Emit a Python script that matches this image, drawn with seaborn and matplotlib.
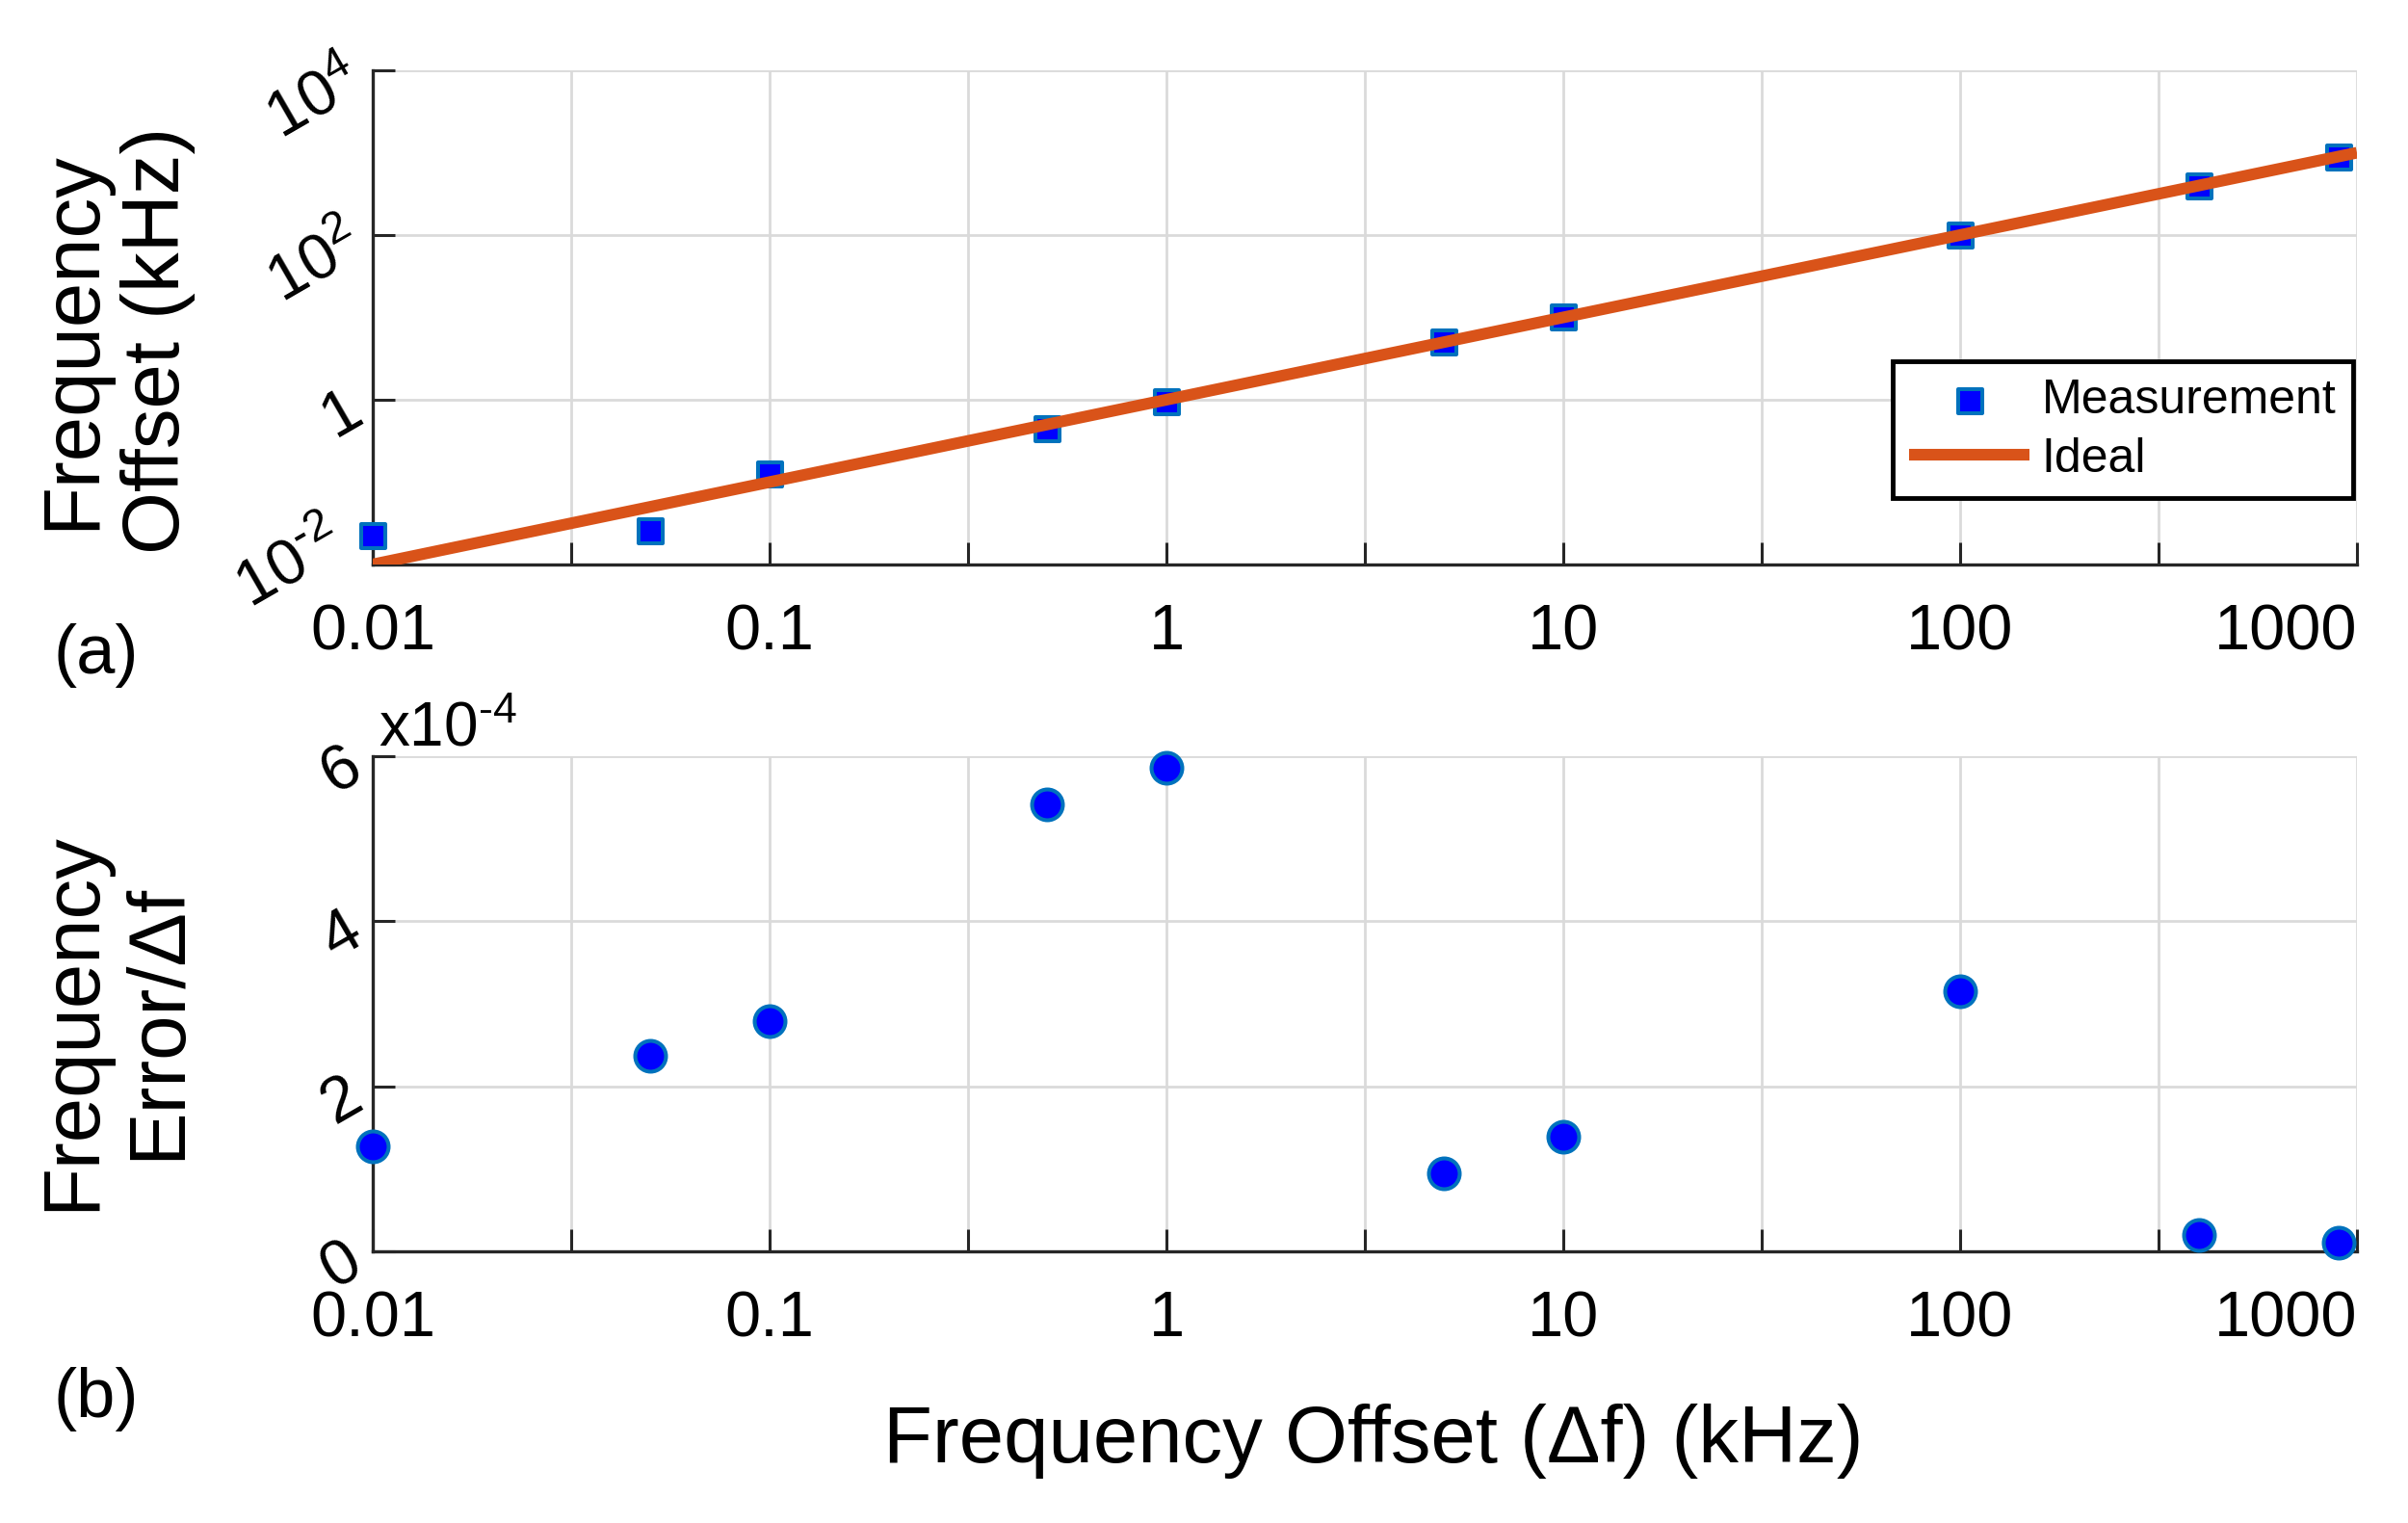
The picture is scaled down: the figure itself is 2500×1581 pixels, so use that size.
import numpy as np
import pandas as pd
import matplotlib
matplotlib.use("Agg")
import matplotlib.pyplot as plt
import seaborn as sns
from matplotlib.ticker import FixedLocator, FixedFormatter, NullLocator

# ---------------- data ----------------
freq_khz = [0.01, 0.05, 0.1, 0.5, 1, 5, 10, 100, 400, 900]
measured_khz = [0.0224, 0.0257, 0.126, 0.44, 0.95, 5.0, 10.0, 100.0, 398.0, 885.0]
rel_error = [1.27e-4, 2.37e-4, 2.79e-4, 5.42e-4, 5.86e-4, 0.95e-4, 1.39e-4, 3.15e-4, 0.20e-4, 0.11e-4]
ideal_x = [0.01, 1000]
ideal_y = [0.01, 1000]

x_tick_labels = ["0.01", "0.1", "1", "10", "100", "1000"]
y_top_ticks = [1e-2, 1, 1e2, 1e4]
y_top_labels = [r"10$^{\text{-}2}$", "1", r"10$^{2}$", r"10$^{4}$"]
y_bot_ticks = [0, 2e-4, 4e-4, 6e-4]
y_bot_labels = ["0", "2", "4", "6"]

# ---------------- style ----------------
sns.set_theme(style="white")
plt.rcParams["font.family"] = ["Liberation Sans", "DejaVu Sans"]
plt.rcParams["mathtext.fontset"] = "custom"
plt.rcParams["mathtext.rm"] = "Liberation Sans"
plt.rcParams["mathtext.it"] = "Liberation Sans:italic"
plt.rcParams["mathtext.default"] = "regular"
plt.rcParams["text.color"] = "black"
plt.rcParams["axes.labelcolor"] = "black"
plt.rcParams["xtick.color"] = "black"
plt.rcParams["ytick.color"] = "black"

AX_COL = "#262626"
GRID_COL = "#dadada"
FACE = "#0000FF"
EDGE = "#0072BD"
LINE = "#D95319"

meas_df = pd.DataFrame({"freq": freq_khz, "measured": measured_khz, "err": rel_error})
ideal_df = pd.DataFrame({"x": ideal_x, "y": ideal_y})

fig = plt.figure(figsize=(25, 15.81), dpi=100)
ax1 = fig.add_axes([0.1548, 0.6294, 0.824, 0.3244])
ax2 = fig.add_axes([0.1548, 0.1784, 0.824, 0.3251])

# top panel
sns.scatterplot(data=meas_df, x="freq", y="measured", ax=ax1, marker="s", s=324,
                color=FACE, edgecolor=EDGE, linewidth=2.9, label="Measurement",
                zorder=3, clip_on=False)
sns.lineplot(data=ideal_df, x="x", y="y", ax=ax1, color=LINE, linewidth=8.7,
             label="Ideal", zorder=4, solid_capstyle="butt")
ax1.set_xscale("log")
ax1.set_yscale("log")
ax1.set_ylim(1e-2, 1e4)

# bottom panel
sns.scatterplot(data=meas_df, x="freq", y="err", ax=ax2, marker="o", s=529,
                color=FACE, edgecolor=EDGE, linewidth=2.9, zorder=3, clip_on=False,
                legend=False)
ax2.set_xscale("log")
ax2.set_ylim(0, 6e-4)

xticks = 10.0 ** np.arange(-2, 3.01, 0.5)
xlabels = [x_tick_labels[i // 2] if i % 2 == 0 else "" for i in range(len(xticks))]

for ax in (ax1, ax2):
    ax.set_xlim(0.01, 1000)
    ax.xaxis.set_major_locator(FixedLocator(xticks))
    ax.xaxis.set_major_formatter(FixedFormatter(xlabels))
    ax.xaxis.set_minor_locator(NullLocator())
    ax.yaxis.set_minor_locator(NullLocator())
    ax.set_xlabel("")
    ax.set_ylabel("")
    ax.set_axisbelow(True)
    ax.grid(True, which="major", color=GRID_COL, linewidth=2.0)
    for side in ("top", "right"):
        ax.spines[side].set_visible(False)
    for side in ("left", "bottom"):
        ax.spines[side].set_color(AX_COL)
        ax.spines[side].set_linewidth(2.4)
    ax.tick_params(axis="x", which="major", direction="in", length=16.5, width=2.2,
                   color=AX_COL, labelsize=48, pad=29, labelcolor="black",
                   bottom=True, top=False)
    ax.tick_params(axis="y", which="major", direction="in", length=16.5, width=2.2,
                   color=AX_COL, labelsize=48, pad=14, labelcolor="black",
                   left=True, right=False, labelrotation=30)

ax1.yaxis.set_major_locator(FixedLocator(y_top_ticks))
ax1.yaxis.set_major_formatter(FixedFormatter(y_top_labels))
ax2.yaxis.set_major_locator(FixedLocator(y_bot_ticks))
ax2.yaxis.set_major_formatter(FixedFormatter(y_bot_labels))

fig.canvas.draw()
for ax in (ax1, ax2):
    labs = ax.get_xticklabels()
    labs[-1].set_horizontalalignment("right")
    for t in ax.get_yticklabels():
        t.set_rotation_mode("anchor")
ax1.get_yticklabels()[0].set_verticalalignment("bottom")

# offset text for bottom panel
ax2.text(0.003, 1.02, r"x10$^{\text{-}4}$", transform=ax2.transAxes, fontsize=46,
         ha="left", va="baseline", color="black")

# legend
h, l = ax1.get_legend_handles_labels()
leg = ax1.legend(h, l, loc="upper right", bbox_to_anchor=(0.998, 0.411),
                 fontsize=36, frameon=True, fancybox=False, edgecolor="black",
                 framealpha=1, handlelength=2.5, handletextpad=0.25,
                 borderpad=0.35, labelspacing=0.3, borderaxespad=0)
leg.get_frame().set_linewidth(3.5)
for t in leg.get_texts():
    t.set_color("black")

# labels
fig.text(120 / 2500, 1 - 353 / 1581, "Frequency\nOffset (kHz)", rotation=90,
         ha="center", va="center", fontsize=60, linespacing=1.18, color="black")
fig.text(120 / 2500, 1 - 1060 / 1581, "Frequency\nError/\u0394f", rotation=90,
         ha="center", va="center", fontsize=60, linespacing=1.18, color="black")
fig.text(1426 / 2500, 1 - 1496 / 1581, "Frequency Offset (\u0394f) (kHz)",
         ha="center", va="center", fontsize=60, color="black")
fig.text(100 / 2500, 1 - 680 / 1581, "(a)", ha="center", va="center", fontsize=52,
         color="black")
fig.text(100 / 2500, 1 - 1452 / 1581, "(b)", ha="center", va="center", fontsize=52,
         color="black")

fig.savefig("out.png", dpi=100, facecolor="white")
